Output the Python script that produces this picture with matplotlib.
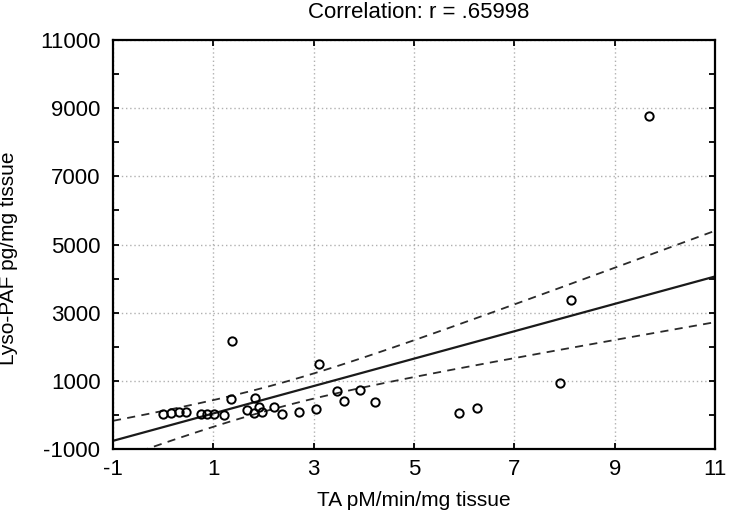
import numpy as np
import matplotlib.pyplot as plt

# TA pM/min/mg tissue vs Lyso-PAF pg/mg tissue
ta = [0.0, 0.15, 0.32, 0.45, 0.75, 0.88, 1.01, 1.21, 1.35, 1.68,
      1.81, 1.84, 1.91, 1.98, 2.20, 2.36, 2.70, 3.05, 3.11, 3.47,
      3.60, 3.92, 4.23, 5.90, 6.25, 7.92, 8.12, 9.68, 1.38]
lyso = [25, 50, 80, 100, 30, 30, 30, 0, 470, 150,
        50, 490, 246, 100, 246, 20, 100, 170, 1500, 707,
        413, 736, 384, 70, 194, 932, 3360, 8770, 2180]

# regression line and 95% confidence band, read at the x grid positions
band_x = [-1, 1, 3, 5, 7, 9, 11]
fit_y = [-760, 45, 845, 1650, 2455, 3260, 4060]
upper_y = [-170, 430, 1180, 2210, 3240, 4320, 5400]
lower_y = [-1340, -360, 470, 1090, 1670, 2220, 2710]

xticks = [-1, 1, 3, 5, 7, 9, 11]
yticks = [-1000, 1000, 3000, 5000, 7000, 9000, 11000]
title = "Correlation: r = .65998"

plt.rcParams['font.family'] = ['Liberation Sans', 'DejaVu Sans']
plt.rcParams['axes.unicode_minus'] = False

fig = plt.figure(figsize=(7.32, 5.14), dpi=100)
ax = fig.add_axes([113 / 732, 1 - 449 / 514, 602 / 732, 409 / 514])

# smooth the band through the read values (half-width squared is quadratic in x)
bx = np.array(band_x, dtype=float)
up = np.array(upper_y, dtype=float)
lo = np.array(lower_y, dtype=float)
line = np.polyfit(bx, np.array(fit_y, dtype=float), 1)
hw2 = np.polyfit(bx, ((up - lo) / 2) ** 2, 2)
xs = np.linspace(-1, 11, 300)
mid = np.polyval(line, xs)
half = np.sqrt(np.polyval(hw2, xs))

ax.plot(xs, mid, color='#1a1a1a', lw=1.6)
ax.plot(xs, mid + half, color='#2a2a2a', lw=1.3, ls=(0, (4.5, 3.5)))
ax.plot(xs, mid - half, color='#2a2a2a', lw=1.3, ls=(0, (4.5, 3.5)))
ax.plot(ta, lyso, 'o', mfc='none', mec='black', ms=6, mew=1.4)

ax.set_xlim(-1, 11)
ax.set_ylim(-1000, 11000)
ax.set_xticks(xticks)
ax.set_yticks(yticks)
ax.set_yticks(range(0, 11000, 2000), minor=True)
ax.grid(True, which='major', color='#b0b0b0', ls=(0, (1, 2)), lw=1)
ax.tick_params(direction='in', top=True, right=True, labelsize=16, length=4, width=1.3)
ax.tick_params(axis='x', pad=7)
ax.tick_params(axis='y', pad=9)
ax.tick_params(which='minor', direction='in', left=True, right=True, length=4, width=1.3)
for sp in ax.spines.values():
    sp.set_linewidth(1.6)

ax.set_xlabel("TA pM/min/mg tissue", fontsize=15, labelpad=8)
ax.set_ylabel("Lyso-PAF pg/mg tissue", fontsize=15)
ax.yaxis.set_label_coords(-0.158, 0.467)
fig.text(419 / 732, 1 - 12 / 514, title, ha='center', va='center', fontsize=16)

fig.savefig("out.png", dpi=100)
